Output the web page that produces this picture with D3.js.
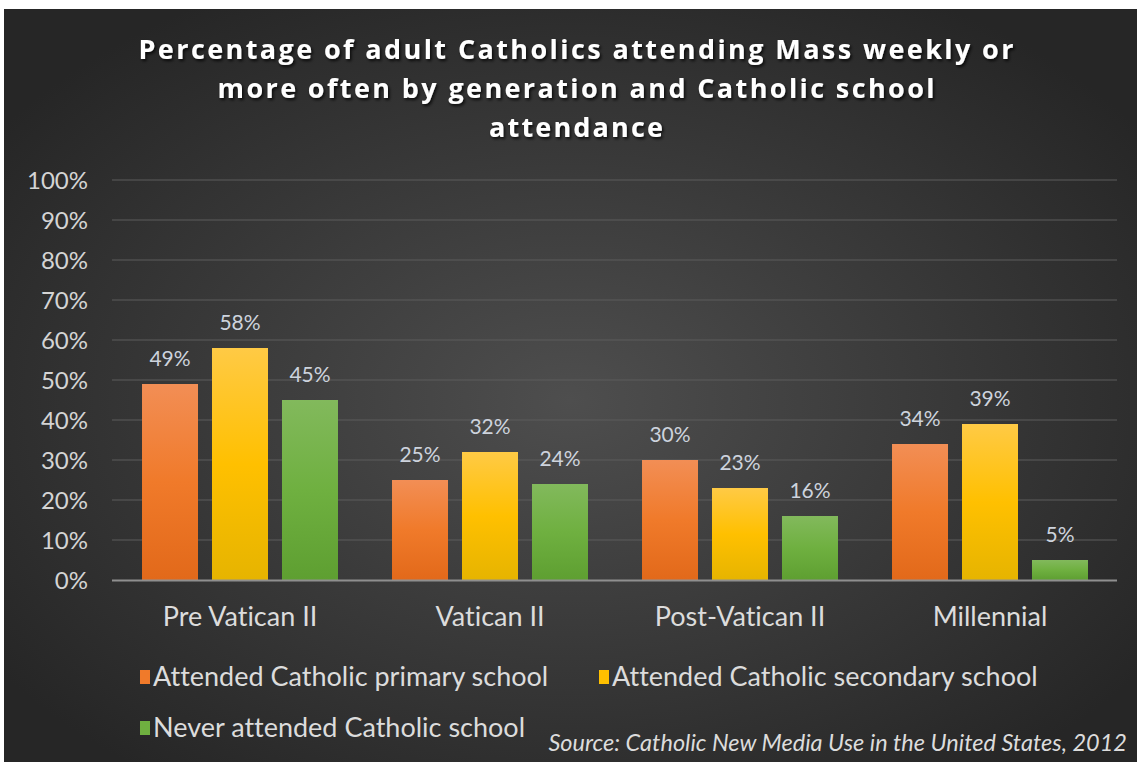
<!DOCTYPE html>
<html>
<head>
<meta charset="utf-8">
<script src="https://cdn.jsdelivr.net/npm/d3@7"></script>
<style>
  body { margin: 0; background: #ffffff; }
  svg { display: block; }
  text { font-variant-ligatures: none; }
</style>
</head>
<body>
<div id="chart"></div>
<script>
// data
var generations = ["Pre Vatican II", "Vatican II", "Post-Vatican II", "Millennial"]
var seriesNames = ["Attended Catholic primary school", "Attended Catholic secondary school", "Never attended Catholic school"]
var primaryVals = [49, 25, 30, 34]
var secondaryVals = [58, 32, 23, 39]
var neverVals = [45, 24, 16, 5]
var yTicks = [0, 10, 20, 30, 40, 50, 60, 70, 80, 90, 100]
var titleLines = ["Percentage of adult Catholics attending Mass weekly or",
                  "more often by generation and Catholic school",
                  "attendance"]
var sourceText = "Source:  Catholic New Media Use in the United States, 2012"

var svgSize = { width: 1137, height: 762 }
var panel = { x: 4, y: 9 }
var plot = { left: 115, right: 1115, top: 180, bottom: 580 }

var colors = [
    { top: "#f28e55", mid: "#f07a2a", bottom: "#e2691a" },
    { top: "#ffca45", mid: "#ffc000", bottom: "#e6b400" },
    { top: "#82b95c", mid: "#6fb040", bottom: "#5e9f31" }
]

var svg = d3.select("#chart").append("svg")
            .attr("width", svgSize.width)
            .attr("height", svgSize.height)
            .style("font-family", "Lato, 'Open Sans', sans-serif")

var defs = svg.append("defs")
var bg = defs.append("radialGradient").attr("id", "bg")
             .attr("cx", "50%").attr("cy", "52%").attr("r", "62%")
bg.append("stop").attr("offset", "0%").attr("stop-color", "#4e4e4e")
bg.append("stop").attr("offset", "100%").attr("stop-color", "#262626")

colors.forEach((c, i) => {
    var g = defs.append("linearGradient").attr("id", "bar" + i)
                .attr("x1", 0).attr("y1", 0).attr("x2", 0).attr("y2", 1)
    g.append("stop").attr("offset", "0%").attr("stop-color", c.top)
    g.append("stop").attr("offset", "50%").attr("stop-color", c.mid)
    g.append("stop").attr("offset", "100%").attr("stop-color", c.bottom)
})

var shadow = defs.append("filter").attr("id", "tshadow")
                 .attr("x", "-5%").attr("y", "-20%").attr("width", "110%").attr("height", "150%")
shadow.append("feDropShadow").attr("dx", 1.5).attr("dy", 2).attr("stdDeviation", 1.5)
      .attr("flood-color", "#000").attr("flood-opacity", 0.8)

svg.append("rect")
   .attr("x", panel.x).attr("y", panel.y)
   .attr("width", svgSize.width - panel.x).attr("height", svgSize.height - panel.y)
   .attr("fill", "url(#bg)")

// title
var title = svg.append("g").attr("filter", "url(#tshadow)")
var titleWidths = [875, 717, 174]
titleLines.forEach((line, i) => {
    title.append("text")
         .attr("x", 576)
         .attr("y", 59 + i * 39)
         .attr("text-anchor", "middle")
         .attr("font-family", "'Open Sans', sans-serif")
         .attr("font-size", 27)
         .attr("font-weight", "bold")
         .attr("fill", "#ffffff")
         .attr("textLength", titleWidths[i])
         .attr("lengthAdjust", "spacing")
         .text(line)
})

var xScale = d3.scaleBand().domain(generations).range([plot.left, plot.right])
var xSub = d3.scaleBand().domain(d3.range(3)).range([0, xScale.bandwidth()])
             .paddingInner(0.2).paddingOuter(0.386)
var yScale = d3.scaleLinear().domain([0, 100]).range([plot.bottom, plot.top])

// gridlines
svg.append("g").selectAll("line").data(yTicks.filter(t => t > 0))
   .enter().append("line")
   .attr("x1", plot.left - 3).attr("x2", plot.right + 2)
   .attr("y1", t => yScale(t)).attr("y2", t => yScale(t))
   .attr("stroke", "#5c5c5c").attr("stroke-width", 1)

// y axis labels
var leftAxis = d3.axisLeft(yScale).tickValues(yTicks).tickFormat(t => t + "%").tickSize(0).tickPadding(0)
var yAxis = svg.append("g").attr("transform", `translate(${88}, 0)`).call(leftAxis)
yAxis.select(".domain").remove()
yAxis.selectAll("text")
     .attr("font-size", 24)
     .attr("font-family", "Lato, sans-serif")
     .attr("fill", "#d4d4d4")
     .attr("dy", "0.35em")

// bars
var rows = generations.map((g, i) => ({ gen: g, vals: [primaryVals[i], secondaryVals[i], neverVals[i]] }))
var groups = svg.append("g").selectAll("g").data(rows).enter().append("g")
                .attr("transform", d => `translate(${xScale(d.gen)}, 0)`)

groups.selectAll("rect").data(d => d.vals).enter().append("rect")
      .attr("x", (v, i) => xSub(i))
      .attr("width", xSub.bandwidth())
      .attr("y", v => yScale(v))
      .attr("height", v => yScale(0) - yScale(v))
      .attr("fill", (v, i) => "url(#bar" + i + ")")

groups.selectAll("text").data(d => d.vals).enter().append("text")
      .attr("x", (v, i) => xSub(i) + xSub.bandwidth() / 2)
      .attr("y", v => yScale(v) - 18)
      .attr("text-anchor", "middle")
      .attr("font-size", 21)
      .attr("fill", "#cdd3dd")
      .text(v => v + "%")

// baseline
svg.append("line")
   .attr("x1", plot.left - 3).attr("x2", plot.right + 2)
   .attr("y1", yScale(0) + 0.5).attr("y2", yScale(0) + 0.5)
   .attr("stroke", "#8f8f8f").attr("stroke-width", 2)

// category labels
var bottomAxis = d3.axisBottom(xScale).tickSize(0).tickPadding(0)
var xAxis = svg.append("g").attr("transform", `translate(0, ${607})`).call(bottomAxis)
xAxis.select(".domain").remove()
xAxis.selectAll("text")
     .attr("font-size", 27)
     .attr("font-family", "Lato, sans-serif")
     .attr("fill", "#dcdcdc")

// legend
var legendPos = [{ x: 140, y: 677 }, { x: 599, y: 677 }, { x: 140, y: 728 }]
var legend = svg.append("g").selectAll("g").data(seriesNames).enter().append("g")
                .attr("transform", (d, i) => `translate(${legendPos[i].x}, ${legendPos[i].y})`)
legend.append("rect")
      .attr("x", 0).attr("y", -7).attr("width", 10).attr("height", 14)
      .attr("fill", (d, i) => colors[i].mid)
legend.append("text")
      .attr("x", 13).attr("y", 0).attr("dy", "0.35em")
      .attr("font-size", 27)
      .attr("fill", "#dcdcdc")
      .text(d => d)

svg.append("text")
   .attr("x", 1127).attr("y", 751)
   .attr("text-anchor", "end")
   .attr("font-size", 23.5)
   .attr("font-style", "italic")
   .attr("fill", "#dcdcdc")
   .text(sourceText)
</script>
</body>
</html>
